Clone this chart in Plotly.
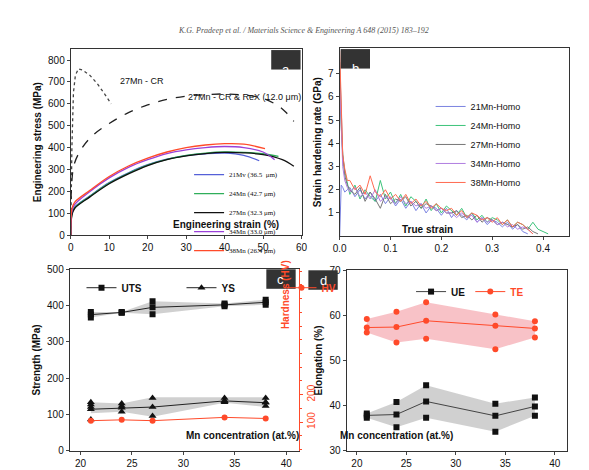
import plotly.graph_objects as go

# ---- panel a: engineering stress-strain ----
cr_x = [0, 0.3, 0.7, 1.2, 2, 3, 5, 7, 9, 10.5]
cr_y = [0, 400, 650, 730, 760, 755, 730, 690, 640, 600]
rex_x = [0, 0.3, 1, 3, 6, 10, 15, 20, 25, 30, 35, 40, 45, 50, 54, 56, 58]
rex_y = [0, 250, 330, 400, 460, 510, 560, 595, 620, 635, 642, 645, 640, 625, 590, 560, 520]

a_names = ["21Mv (36.5  \u03bcm)", "24Mn (42.7 \u03bcm)", "27Mn (32.3 \u03bcm)",
           "34Mn (33.0 \u03bcm)", "38Mn (26.4 \u03bcm)"]
a_x = [
    [0, 0.3, 1, 5, 10, 15, 20, 25, 30, 35, 40, 45, 49],
    [0, 0.3, 1, 5, 10, 15, 20, 25, 30, 35, 40, 45, 50, 54],
    [0, 0.3, 1, 5, 10, 15, 20, 25, 30, 35, 40, 45, 50, 55, 58],
    [0, 0.3, 1, 5, 10, 15, 20, 25, 30, 35, 40, 45, 50, 53],
    [0, 0.3, 1, 5, 10, 15, 20, 25, 30, 35, 40, 45, 50.5],
]
a_y = [
    [0, 100, 128, 180, 240, 285, 322, 347, 363, 372, 375, 365, 340],
    [0, 95, 125, 178, 238, 283, 320, 346, 364, 375, 380, 378, 372, 360],
    [0, 90, 122, 175, 235, 280, 318, 345, 362, 373, 378, 376, 368, 345, 315],
    [0, 110, 140, 200, 262, 310, 345, 373, 390, 400, 405, 400, 380, 345],
    [0, 120, 150, 205, 268, 316, 352, 380, 400, 412, 418, 416, 395],
]
a_colors = ["#5560d8", "#2fae5a", "#111111", "#9a40d8", "#ff4a2a"]

# ---- panel b: strain hardening rate ----
b_names = ["21Mn-Homo", "24Mn-Homo", "27Mn-Homo", "34Mn-Homo", "38Mn-Homo"]
b_colors = ["#7b83e0", "#3cc37a", "#777777", "#b07ee0", "#ff6a50"]
b_x0 = [0, 0.003, 0.006, 0.01, 0.015]
b_start = [
    [0, 2.2, 2.1, 1.9, 2.0],
    [6.0, 4.5, 3.5, 2.8, 2.3],
    [7.5, 5.0, 3.5, 2.6, 2.2],
    [6.5, 4.5, 3.0, 2.4, 2.1],
    [8.0, 6.0, 3.5, 2.9, 2.4],
]
b_strain = [0.02, 0.03, 0.04, 0.05, 0.06, 0.07, 0.08, 0.09, 0.10, 0.11,
            0.12, 0.13, 0.14, 0.15, 0.16, 0.17, 0.18, 0.19, 0.20, 0.21,
            0.22, 0.23, 0.24, 0.25, 0.26, 0.27, 0.28, 0.29, 0.30, 0.31,
            0.32, 0.33, 0.34, 0.35, 0.36, 0.37, 0.38, 0.39, 0.40, 0.41]
b_rate = [
    [2.1, 1.7, 2.0, 1.6, 1.9, 1.5, 1.8, 1.4, 1.7, 1.3,
     1.6, 1.2, 1.5, 1.1, 1.4, 1.0, 1.3, 1.2, 0.9, 1.2,
     0.8, 1.1, 0.9, 0.7, 1.0, 0.6, 0.8, 0.5, 0.7, 0.6,
     0.4, 0.6, 0.3, 0.5, 0.2, 0.1],
    [1.8, 2.2, 1.6, 2.0, 1.7, 1.5, 2.4, 1.6, 1.9, 1.4,
     1.8, 1.3, 1.7, 1.5, 1.2, 1.6, 1.1, 1.4, 1.0, 1.3,
     1.1, 0.9, 1.2, 0.8, 1.0, 0.7, 0.9, 0.6, 0.8, 0.7,
     0.5, 0.7, 0.4, 0.6, 0.5, 0.3, 0.6, 0.3, 0.2, 0.1],
    [2.0, 1.8, 2.1, 1.5, 1.9, 1.6, 1.2, 1.8, 1.4, 1.6,
     1.5, 1.7, 1.3, 1.5, 1.2, 1.4, 1.3, 1.1, 1.2, 1.0,
     1.0, 1.1, 0.8, 0.9, 0.7, 0.9, 0.6, 0.8, 0.7, 0.5,
     0.6, 0.5, 0.4, 0.5, 0.3, 0.4, 0.2, 0.1],
    [1.9, 2.1, 1.7, 1.9, 1.6, 2.0, 1.5, 1.7, 1.6, 1.4,
     1.7, 1.4, 1.5, 1.3, 1.4, 1.2, 1.3, 1.1, 1.2, 1.0,
     1.0, 0.8, 1.0, 0.8, 0.9, 0.6, 0.8, 0.6, 0.7, 0.5,
     0.6, 0.4, 0.5, 0.3, 0.4, 0.3, 0.1],
    [2.4, 2.0, 2.2, 1.8, 2.6, 1.9, 1.7, 2.0, 1.6, 1.8,
     1.5, 1.8, 1.4, 1.6, 1.3, 1.5, 1.2, 1.4, 1.2, 1.1,
     1.2, 0.9, 1.1, 0.8, 1.0, 0.9, 0.7, 0.8, 0.6, 0.8,
     0.5, 0.7, 0.4, 0.6, 0.5, 0.3, 0.1],
]

# ---- panels c, d ----
mn = [21, 24, 27, 34, 38]
uts_mean = [375, 381, 395, 402, 409]
uts_min = [367, 380, 376, 398, 402]
uts_max = [382, 382, 412, 406, 416]
ys_mean = [114, 118, 120, 137, 132]
ys_min = [103, 107, 93, 132, 120]
ys_max = [133, 130, 147, 147, 147]
ys_pts_x = [21, 21, 21, 21, 24, 24, 24, 27, 27, 34, 34, 34, 38, 38, 38]
ys_pts_y = [86, 120, 127, 133, 107, 123, 130, 95, 145, 133, 137, 145, 123, 133, 145]
hv = [105, 108, 105, 117, 113]

te_mean = [57.3, 57.4, 58.8, 57.7, 57.1]
te_min = [56.2, 54.0, 54.8, 52.5, 55.1]
te_max = [59.2, 60.8, 62.9, 60.2, 58.7]
ue_mean = [37.8, 38.0, 40.9, 37.7, 39.8]
ue_min = [37.3, 35.2, 37.3, 34.2, 37.7]
ue_max = [38.2, 40.8, 44.5, 40.4, 41.8]

W, H = 589, 470
def dx(a, b): return [a / W, b / W]
def dy(top, bot): return [1 - bot / H, 1 - top / H]

RED = "#ff4a2a"
fig = go.Figure()

# panel a
fig.add_trace(go.Scatter(x=cr_x, y=cr_y, mode="lines", line=dict(color="#444", dash="dot", width=1.3),
                         showlegend=False, xaxis="x", yaxis="y"))
fig.add_trace(go.Scatter(x=rex_x, y=rex_y, mode="lines", line=dict(color="#222", dash="dash", width=1.3),
                         showlegend=False, xaxis="x", yaxis="y", line_shape="spline"))
for n, xs, ys, c in zip(a_names, a_x, a_y, a_colors):
    fig.add_trace(go.Scatter(x=xs, y=ys, name=n, mode="lines", line=dict(color=c, width=1.3),
                             line_shape="spline", xaxis="x", yaxis="y", legend="legend"))

# panel b
for n, s0, r, c in zip(b_names, b_start, b_rate, b_colors):
    fig.add_trace(go.Scatter(x=b_x0 + b_strain[:len(r)], y=s0 + r, name=n, mode="lines",
                             line=dict(color=c, width=1), xaxis="x2", yaxis="y2", legend="legend2"))

# panel c
def band(xa, ya, lo, hi, color):
    fig.add_trace(go.Scatter(x=mn + mn[::-1], y=hi + lo[::-1], fill="toself", fillcolor=color,
                             line=dict(width=0), mode="lines", showlegend=False, hoverinfo="skip",
                             xaxis=xa, yaxis=ya))

band("x3", "y3", uts_min, uts_max, "rgba(150,150,150,0.45)")
band("x3", "y3", ys_min, ys_max, "rgba(150,150,150,0.45)")
fig.add_trace(go.Scatter(x=mn, y=uts_mean, name="UTS", mode="lines+markers",
                         line=dict(color="#222", width=1), marker=dict(symbol="square", size=6, color="#111"),
                         xaxis="x3", yaxis="y3", legend="legend3"))
fig.add_trace(go.Scatter(x=mn * 2, y=uts_min + uts_max, mode="markers", showlegend=False,
                         marker=dict(symbol="square", size=6, color="#111"), xaxis="x3", yaxis="y3"))
fig.add_trace(go.Scatter(x=mn, y=ys_mean, name="YS", mode="lines+markers",
                         line=dict(color="#222", width=1), marker=dict(symbol="triangle-up", size=7, color="#111"),
                         xaxis="x3", yaxis="y3", legend="legend3"))
fig.add_trace(go.Scatter(x=ys_pts_x, y=ys_pts_y, mode="markers", showlegend=False,
                         marker=dict(symbol="triangle-up", size=7, color="#111"), xaxis="x3", yaxis="y3"))
fig.add_trace(go.Scatter(x=mn, y=hv, name="<span style='color:#ff4a2a'>HV</span>", mode="lines+markers",
                         line=dict(color=RED, width=1), marker=dict(symbol="circle", size=6, color=RED),
                         xaxis="x3", yaxis="y5", legend="legend3"))

# panel d
band("x4", "y4", te_min, te_max, "rgba(240,120,130,0.45)")
band("x4", "y4", ue_min, ue_max, "rgba(150,150,150,0.45)")
fig.add_trace(go.Scatter(x=mn, y=ue_mean, name="UE", mode="lines+markers",
                         line=dict(color="#444", width=1), marker=dict(symbol="square", size=6, color="#111"),
                         xaxis="x4", yaxis="y4", legend="legend4"))
fig.add_trace(go.Scatter(x=mn * 2, y=ue_min + ue_max, mode="markers", showlegend=False,
                         marker=dict(symbol="square", size=6, color="#111"), xaxis="x4", yaxis="y4"))
fig.add_trace(go.Scatter(x=mn, y=te_mean, name="<span style='color:#ff4a2a'>TE</span>", mode="lines+markers",
                         line=dict(color=RED, width=1), marker=dict(symbol="circle", size=6, color=RED),
                         xaxis="x4", yaxis="y4", legend="legend4"))
fig.add_trace(go.Scatter(x=mn * 2, y=te_min + te_max, mode="markers", showlegend=False,
                         marker=dict(symbol="circle", size=6, color=RED), xaxis="x4", yaxis="y4"))

tickf = dict(family="Liberation Sans", size=10, color="#111")
ax = dict(showline=True, mirror=True, linecolor="#333", linewidth=1, ticks="outside", ticklen=3,
          showgrid=False, zeroline=False, tickfont=tickf)
titf = dict(family="Liberation Sans", size=10, color="#111")

fig.update_layout(
    width=W, height=H, margin=dict(l=0, r=0, t=0, b=0),
    paper_bgcolor="white", plot_bgcolor="white",
    font=dict(family="Liberation Sans", color="#111"),
    xaxis=dict(ax, domain=dx(57, 293), range=[0, 60], dtick=10, anchor="y"),
    yaxis=dict(ax, domain=dy(36, 227), range=[0, 850], dtick=100, anchor="x",
               title=dict(text="<b>Engineering stress (MPa)</b>", font=titf, standoff=4)),
    xaxis2=dict(ax, domain=dx(332, 567), range=[0, 0.452], tickvals=[0, 0.1, 0.2, 0.3, 0.4],
                tickformat=".1f", anchor="y2"),
    yaxis2=dict(ax, domain=dy(35, 228), range=[0, 8.1], tickvals=[1, 2, 3, 4, 5, 6, 7], anchor="x2",
                title=dict(text="<b>Strain hardening rate (GPa)</b>", font=titf, standoff=4)),
    xaxis3=dict(ax, domain=dx(56, 290), range=[18.95, 41.2], dtick=5, anchor="y3"),
    yaxis3=dict(ax, domain=dy(262, 448), range=[0, 500], dtick=100, anchor="x3", mirror=False,
                title=dict(text="<b>Strength (MPa)</b>", font=titf, standoff=4)),
    yaxis5=dict(ax, overlaying="y3", side="right", anchor="x3", range=[-4, 657], tickvals=[100, 200],
                tickangle=-90, linecolor=RED, mirror=False, tickcolor=RED,
                tickfont=dict(family="Liberation Sans", size=10, color=RED),
                minor=dict(ticks="outside", ticklen=2, dtick=50, tickcolor=RED)),
    xaxis4=dict(ax, domain=dx(339, 564), range=[18.95, 41.2], dtick=5, anchor="y4"),
    yaxis4=dict(ax, domain=dy(263, 448), range=[30, 70], dtick=10, anchor="x4",
                title=dict(text="<b>Elongation (%)</b>", font=titf, standoff=4)),
    legend=dict(x=178 / W, y=1 - 150 / H, xanchor="left", yanchor="top", bgcolor="rgba(0,0,0,0)",
                font=dict(family="Liberation Serif", size=7), tracegroupgap=0, itemwidth=30),
    legend2=dict(x=425 / W, y=1 - 80 / H, xanchor="left", yanchor="top", bgcolor="rgba(0,0,0,0)",
                 font=dict(family="Liberation Sans", size=9), itemwidth=30),
    legend3=dict(x=68 / W, y=1 - 266 / H, xanchor="left", yanchor="top", orientation="h",
                 bgcolor="rgba(0,0,0,0)", font=dict(family="Liberation Sans", size=10, weight="bold"),
                 itemwidth=30, entrywidth=55),
    legend4=dict(x=405 / W, y=1 - 270 / H, xanchor="left", yanchor="top", orientation="h",
                 bgcolor="rgba(0,0,0,0)", font=dict(family="Liberation Sans", size=10, weight="bold"),
                 itemwidth=30),
)

annots = [
    dict(x=0.5, y=1 - 10 / H, text="<i>K.G. Pradeep et al. / Materials Science & Engineering A 648 (2015) 183\u2013192</i>",
         font=dict(family="Liberation Serif", size=8, color="#555")),
    dict(x=160 / W, y=1 - 216 / H, text="<b>Engineering strain (%)</b>", font=titf),
    dict(x=450 / W, y=1 - 221 / H, text="<b>True strain</b>", font=titf),
    dict(x=173 / W, y=1 - 440 / H, text="<b>Mn concentration (at.%)</b>", font=titf),
    dict(x=450 / W, y=1 - 440 / H, text="<b>Mn concentration (at.%)</b>", font=titf),
    dict(x=105 / W, y=1 - 62 / H, text="27Mn - CR", font=dict(size=9)),
    dict(x=235 / W, y=1 - 78 / H, text="27Mn - CR & ReX (12.0 \u03bcm)", font=dict(size=9)),
    dict(x=276 / W, y=1 - 325 / H, text="<b>Hardness (HV)</b>", textangle=-90,
         font=dict(family="Liberation Sans", size=10, color=RED)),
]
for a in annots:
    a.update(xref="paper", yref="paper", showarrow=False)
    fig.add_annotation(**a)

# panel letter boxes
for (x0, y0, t) in [(262, 37, "a"), (333, 36, "b"), (257, 262, "c"), (300, 263, "d")]:
    fig.add_shape(type="rect", xref="paper", yref="paper", x0=x0 / W, x1=(x0 + 30) / W,
                  y0=1 - (y0 + 20) / H, y1=1 - y0 / H, fillcolor="#333", line=dict(width=0))
    fig.add_annotation(x=(x0 + 15) / W, y=1 - (y0 + 10) / H, xref="paper", yref="paper", text=t,
                       showarrow=False, font=dict(size=13, color="white"))

fig.write_html("out.html")
